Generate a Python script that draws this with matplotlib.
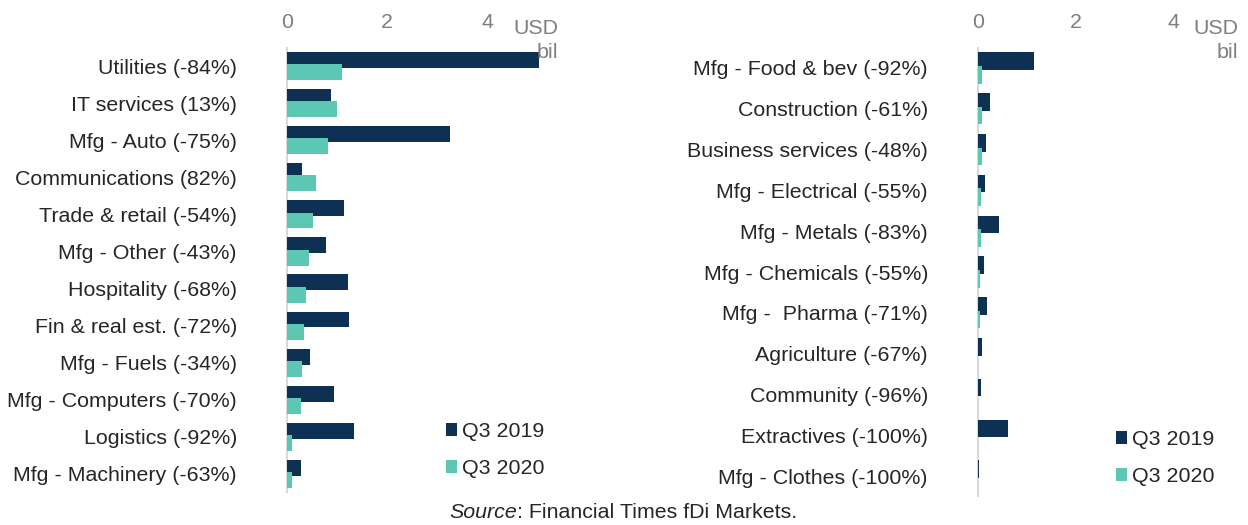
import matplotlib.pyplot as plt
import numpy as np

plt.rcParams['font.family'] = ['Liberation Sans', 'DejaVu Sans']

left_labels = ['Utilities (-84%)', 'IT services (13%)', 'Mfg - Auto (-75%)', 'Communications (82%)',
               'Trade & retail (-54%)', 'Mfg - Other (-43%)', 'Hospitality (-68%)', 'Fin & real est. (-72%)',
               'Mfg - Fuels (-34%)', 'Mfg - Computers (-70%)', 'Logistics (-92%)', 'Mfg - Machinery (-63%)']
left_2019 = [5.04, 0.88, 3.26, 0.30, 1.14, 0.78, 1.22, 1.24, 0.46, 0.94, 1.34, 0.28]
left_2020 = [1.10, 1.00, 0.82, 0.58, 0.52, 0.44, 0.38, 0.34, 0.30, 0.28, 0.10, 0.10]

right_labels = ['Mfg - Food & bev (-92%)', 'Construction (-61%)', 'Business services (-48%)',
                'Mfg - Electrical (-55%)', 'Mfg - Metals (-83%)', 'Mfg - Chemicals (-55%)',
                'Mfg -  Pharma (-71%)', 'Agriculture (-67%)', 'Community (-96%)',
                'Extractives (-100%)', 'Mfg - Clothes (-100%)']
right_2019 = [1.15, 0.25, 0.17, 0.15, 0.43, 0.12, 0.18, 0.08, 0.07, 0.61, 0.02]
right_2020 = [0.09, 0.08, 0.08, 0.06, 0.06, 0.05, 0.04, 0.01, 0.0, 0.0, 0.0]

navy = '#0e3052'
teal = '#5cc8b4'
gray = '#7f7f7f'
txt = '#262626'
fs = 15.4

fig = plt.figure(figsize=(12.48, 5.25), dpi=100)
ax1 = fig.add_axes([287/1248, 1-492.5/525, 250/1248, 445/525])
ax2 = fig.add_axes([978/1248, 1-496.4/525, 244/1248, 448.8/525])


def draw(ax, labels, v19, v20, legpos):
    y = np.arange(len(labels))
    b1 = ax.barh(y - 0.165, v19, height=0.43, color=navy, label='Q3 2019', zorder=2)
    b2 = ax.barh(y + 0.165, v20, height=0.43, color=teal, label='Q3 2020', zorder=3)
    for p in list(b1) + list(b2):
        p.set_clip_on(False)
    ax.set_yticks(y)
    ax.set_yticklabels(labels, fontsize=fs, color=txt)
    ax.set_ylim(len(labels) - 0.5, -0.5)
    ax.set_xlim(0, 5)
    ax.set_xticks([0, 2, 4])
    ax.xaxis.tick_top()
    ax.tick_params(axis='x', length=0, pad=11, labelsize=fs, labelcolor=gray)
    ax.tick_params(axis='y', length=0, pad=36)
    for s in ['top', 'right', 'bottom']:
        ax.spines[s].set_visible(False)
    ax.spines['left'].set_color('#d9d9d9')
    ax.spines['left'].set_linewidth(1.5)
    ax.spines['left'].set_zorder(1)
    fig.legend(handles=[b1, b2], loc='upper left',
               bbox_to_anchor=legpos, frameon=False, fontsize=fs, labelcolor=txt,
               handlelength=0.5, handleheight=0.5, handletextpad=0.25,
               labelspacing=0.85, borderpad=0, borderaxespad=0)


draw(ax1, left_labels, left_2019, left_2020, (446/1248, 1-422/525))
draw(ax2, right_labels, right_2019, right_2020, (1116/1248, 1-430/525))

for xr in [558, 1238]:
    fig.text(xr/1248, 1-28/525, 'USD', ha='right', va='center', fontsize=fs, color=gray)
    fig.text(xr/1248, 1-52/525, 'bil', ha='right', va='center', fontsize=fs, color=gray)

src = fig.text(449/1248, 1-512/525, 'Source', ha='left', va='center', fontsize=fs,
               color=txt, style='italic')
fig.canvas.draw()
bb = src.get_window_extent()
fig.text(bb.x1/1248, 1-512/525, ': Financial Times fDi Markets.', ha='left', va='center',
         fontsize=fs, color=txt)

fig.savefig('out.png', dpi=100)
